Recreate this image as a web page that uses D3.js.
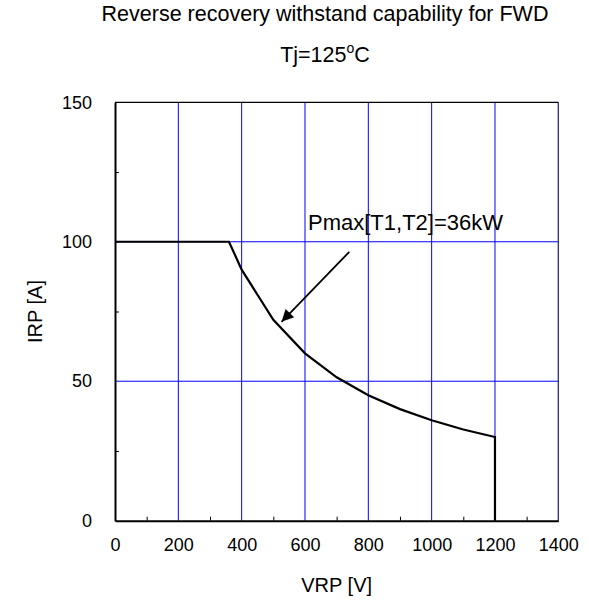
<!DOCTYPE html>
<html>
<head>
<meta charset="utf-8">
<script src="https://cdn.jsdelivr.net/npm/d3@7"></script>
<style>
  html, body { margin: 0; padding: 0; background: #fff; }
  text { font-family: "Liberation Sans", Arial, sans-serif; fill: #000; }
</style>
</head>
<body>
<svg id="chart" width="589" height="604"></svg>
<script>
// Safe operating curve: reverse recovery (VRP, IRP) under Pmax = 36 kW
const vrp = [0, 360, 400, 500, 600, 700, 800, 900, 1000, 1100, 1200, 1200];
const irp = [100, 100, 90, 72, 60, 51.4, 45, 40, 36, 32.7, 30, 0];

const xMajor = [0, 200, 400, 600, 800, 1000, 1200, 1400];
const xMinor = [100, 300, 500, 700, 900, 1100, 1300];
const yMajor = [0, 50, 100, 150];
const yMinor = [25, 75, 125];

const titleText = "Reverse recovery withstand capability for FWD";
const subtitleText = "Tj=125";
const xTitle = "VRP [V]";
const yTitle = "IRP [A]";
const annotationText = "Pmax[T1,T2]=36kW";
// arrow from the label down to the curve, in data units [VRP, IRP]
const arrowFrom = [740, 96.4];
const arrowTo = [526, 71.3];

const svg = d3.select("#chart");
const plotL = 115, plotR = 558.3, plotT = 102.3, plotB = 520.7;

const x = d3.scaleLinear().domain([0, 1400]).range([plotL, plotR]);
const y = d3.scaleLinear().domain([0, 150]).range([plotB, plotT]);

const blue = "#0000ff";

// gridlines
svg.append("g").selectAll("line").data(xMajor.filter(v => v > 0 && v < 1400)).join("line")
  .attr("x1", d => x(d)).attr("x2", d => x(d))
  .attr("y1", plotT).attr("y2", plotB)
  .attr("stroke", blue).attr("stroke-width", 1);
svg.append("g").selectAll("line").data(yMajor.filter(v => v > 0 && v < 150)).join("line")
  .attr("x1", plotL).attr("x2", plotR)
  .attr("y1", d => y(d)).attr("y2", d => y(d))
  .attr("stroke", blue).attr("stroke-width", 1);

// frame
svg.append("line").attr("x1", x(1400)).attr("x2", x(1400)).attr("y1", plotT).attr("y2", plotB)
  .attr("stroke", "#2a2a90").attr("stroke-width", 1.3);
svg.append("line").attr("x1", plotL).attr("x2", plotR).attr("y1", plotT).attr("y2", plotT)
  .attr("stroke", "#000").attr("stroke-width", 1.2);

// minor ticks, pointing into the plot
const xMinorAxis = d3.axisTop(x).tickValues(xMinor).tickSize(4).tickFormat("");
svg.append("g").attr("transform", `translate(0,${plotB})`).call(xMinorAxis)
  .call(g => g.select(".domain").remove())
  .selectAll("line").attr("stroke", "#000").attr("stroke-width", 1);
const yMinorAxis = d3.axisRight(y).tickValues(yMinor).tickSize(4).tickFormat("");
svg.append("g").attr("transform", `translate(${plotL},0)`).call(yMinorAxis)
  .call(g => g.select(".domain").remove())
  .selectAll("line").attr("stroke", "#000").attr("stroke-width", 1);

// axes with labels
const xAxis = d3.axisBottom(x).tickValues(xMajor).tickSize(0).tickPadding(18).tickFormat(d3.format("d"));
const gx = svg.append("g").attr("transform", `translate(0,${plotB})`).call(xAxis);
gx.select(".domain").attr("stroke", "#000").attr("stroke-width", 2);
gx.selectAll("text").attr("font-size", 18).attr("font-family", "Liberation Sans, Arial, sans-serif");

const yAxis = d3.axisLeft(y).tickValues(yMajor).tickSize(0).tickPadding(23).tickFormat(d3.format("d"));
const gy = svg.append("g").attr("transform", `translate(${plotL},0)`).call(yAxis);
gy.select(".domain").attr("stroke", "#000").attr("stroke-width", 2);
gy.selectAll("text").attr("font-size", 18).attr("font-family", "Liberation Sans, Arial, sans-serif");

// curve
const line = d3.line().x((d, i) => x(vrp[i])).y((d, i) => y(irp[i]));
svg.append("path").datum(vrp).attr("d", line)
  .attr("fill", "none").attr("stroke", "#000").attr("stroke-width", 2.2)
  .attr("stroke-linejoin", "miter");

// annotation arrow
svg.append("defs").append("marker")
  .attr("id", "head").attr("viewBox", "0 0 10 10")
  .attr("refX", 10).attr("refY", 5)
  .attr("markerWidth", 14).attr("markerHeight", 12)
  .attr("markerUnits", "userSpaceOnUse")
  .attr("orient", "auto")
  .append("path").attr("d", "M0,0 L10,5 L0,10 Z").attr("fill", "#000");
svg.append("line")
  .attr("x1", x(arrowFrom[0])).attr("y1", y(arrowFrom[1]))
  .attr("x2", x(arrowTo[0])).attr("y2", y(arrowTo[1]))
  .attr("stroke", "#000").attr("stroke-width", 1.8)
  .attr("marker-end", "url(#head)");

svg.append("text").attr("x", 308).attr("y", 230)
  .attr("font-size", 22).text(annotationText);

// titles
svg.append("text").attr("x", 325).attr("y", 21).attr("text-anchor", "middle")
  .attr("font-size", 21.5).text(titleText);
const sub = svg.append("text").attr("x", 325).attr("y", 61.7).attr("text-anchor", "middle")
  .attr("font-size", 21.5);
sub.append("tspan").text(subtitleText);
sub.append("tspan").attr("font-size", 14).attr("dy", -9).text("o");
sub.append("tspan").attr("dy", 9).text("C");

svg.append("text").attr("x", (plotL + plotR) / 2).attr("y", 592).attr("text-anchor", "middle")
  .attr("font-size", 20).text(xTitle);
svg.append("text").attr("transform", `translate(42,${(plotT + plotB) / 2}) rotate(-90)`)
  .attr("text-anchor", "middle").attr("font-size", 20).text(yTitle);
</script>
</body>
</html>
